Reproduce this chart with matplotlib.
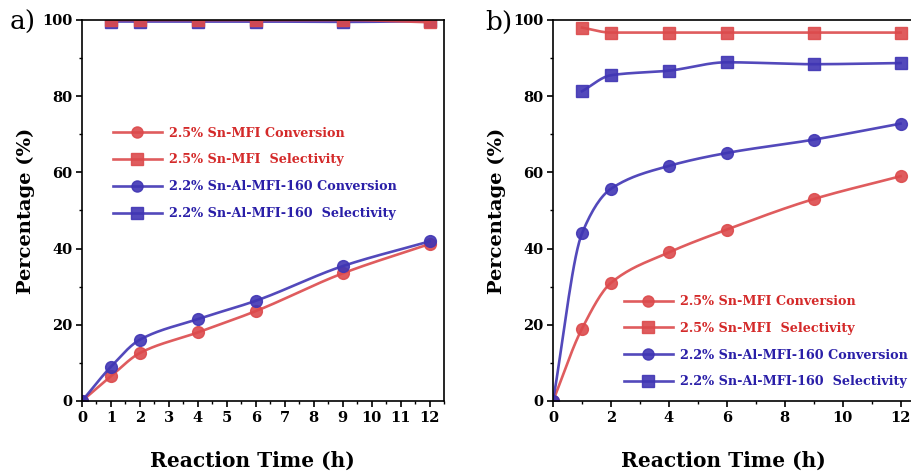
import numpy as np
import matplotlib
matplotlib.use("Agg")
import matplotlib.pyplot as plt
from matplotlib.ticker import MultipleLocator

# reaction times (h)
t_conv = [0, 1, 2, 4, 6, 9, 12]
t_sel = [1, 2, 4, 6, 9, 12]

# panel a)
a_sn_conv = [0, 6.5, 12.6, 18.0, 23.6, 33.5, 41.2]
a_snal_conv = [0, 9.0, 16.1, 21.5, 26.3, 35.4, 41.9]
a_sn_sel = [100, 100, 100, 100, 100, 99.4]
a_snal_sel = [99.6, 99.6, 99.6, 99.6, 99.5, 99.7]

# panel b)
b_sn_conv = [0, 19.0, 31.0, 39.0, 45.0, 53.0, 59.0]
b_snal_conv = [0, 44.0, 55.7, 61.7, 65.1, 68.6, 72.8]
b_sn_sel = [98.0, 96.7, 96.7, 96.7, 96.7, 96.7]
b_snal_sel = [81.3, 85.5, 86.7, 88.9, 88.4, 88.7]

labels = ["2.5% Sn-MFI Conversion", "2.5% Sn-MFI  Selectivity",
          "2.2% Sn-Al-MFI-160 Conversion", "2.2% Sn-Al-MFI-160  Selectivity"]

red = "#dc4a4c"
blue = "#4035b4"
red_txt = "#d42a2a"
blue_txt = "#2a1fa8"

serif = "DejaVu Serif"


def pchip(x, y, n=200):
    # monotone cubic curve through the points, only used to draw the smooth line
    x = np.asarray(x, float)
    y = np.asarray(y, float)
    h = np.diff(x)
    d = np.diff(y) / h
    m = np.zeros_like(y)
    for k in range(1, len(x) - 1):
        if d[k - 1] * d[k] > 0:
            w1 = 2 * h[k] + h[k - 1]
            w2 = h[k] + 2 * h[k - 1]
            m[k] = (w1 + w2) / (w1 / d[k - 1] + w2 / d[k])
    m[0] = d[0]
    m[-1] = d[-1]
    xs = np.linspace(x[0], x[-1], n)
    idx = np.clip(np.searchsorted(x, xs) - 1, 0, len(h) - 1)
    s = (xs - x[idx]) / h[idx]
    h00 = 2 * s**3 - 3 * s**2 + 1
    h10 = s**3 - 2 * s**2 + s
    h01 = -2 * s**3 + 3 * s**2
    h11 = s**3 - s**2
    ys = h00 * y[idx] + h10 * h[idx] * m[idx] + h01 * y[idx + 1] + h11 * h[idx] * m[idx + 1]
    return xs, ys


def series(ax, x, y, color, marker):
    xs, ys = pchip(x, y)
    ax.plot(xs, ys, color=color, lw=1.9, alpha=0.9)
    ax.plot(x, y, ls="none", marker=marker, ms=8.5, color=color, mec=color, alpha=0.9)


def setup(ax, major, minor):
    ax.set_xlim(0, 12.5)
    ax.set_ylim(0, 100)
    ax.xaxis.set_major_locator(MultipleLocator(major))
    ax.xaxis.set_minor_locator(MultipleLocator(minor))
    ax.yaxis.set_major_locator(MultipleLocator(20))
    ax.yaxis.set_minor_locator(MultipleLocator(10))
    ax.tick_params(which="major", direction="out", length=4, width=1.2, pad=3)
    ax.tick_params(which="minor", direction="out", length=2.5, width=1.0)
    for lab in ax.get_xticklabels() + ax.get_yticklabels():
        lab.set_fontfamily(serif)
        lab.set_fontweight("bold")
        lab.set_fontsize(10.5)
    for sp in ax.spines.values():
        sp.set_linewidth(1.2)
    ax.set_xlabel("Reaction Time (h)", fontfamily=serif, fontweight="bold",
                  fontsize=14.5, labelpad=19)
    ax.xaxis.label.set_x(0.47)
    ax.set_ylabel("Percentage (%)", fontfamily=serif, fontweight="bold",
                  fontsize=14, labelpad=5)


def legend(ax, anchor):
    hs = [
        plt.Line2D([], [], color=red, lw=1.9, marker="o", ms=8, alpha=0.9),
        plt.Line2D([], [], color=red, lw=1.9, marker="s", ms=8, alpha=0.9),
        plt.Line2D([], [], color=blue, lw=1.9, marker="o", ms=8, alpha=0.9),
        plt.Line2D([], [], color=blue, lw=1.9, marker="s", ms=8, alpha=0.9),
    ]
    leg = ax.legend(hs, labels, loc="upper left", bbox_to_anchor=anchor, frameon=False,
                    prop={"family": serif, "weight": "bold", "size": 9.2},
                    handlelength=3.8, handletextpad=0.6, labelspacing=1.08,
                    borderpad=0, borderaxespad=0)
    for txt, c in zip(leg.get_texts(), [red_txt, red_txt, blue_txt, blue_txt]):
        txt.set_color(c)


fig = plt.figure(figsize=(9.12, 4.75), dpi=100)
ax1 = fig.add_axes([0.0899, 0.1558, 0.397, 0.8021])
ax2 = fig.add_axes([0.6064, 0.1558, 0.397, 0.8021])

# panel a
series(ax1, t_conv, a_sn_conv, red, "o")
series(ax1, t_conv, a_snal_conv, blue, "o")
series(ax1, t_sel, a_snal_sel, blue, "s")
series(ax1, t_sel, a_sn_sel, red, "s")
setup(ax1, 1, 0.5)
legend(ax1, (0.086, 0.72))

# panel b
series(ax2, t_conv, b_sn_conv, red, "o")
series(ax2, t_conv, b_snal_conv, blue, "o")
series(ax2, t_sel, b_sn_sel, red, "s")
series(ax2, t_sel, b_snal_sel, blue, "s")
setup(ax2, 2, 1)
legend(ax2, (0.196, 0.278))

fig.text(0.011, 0.936, "a)", fontfamily=serif, fontsize=19)
fig.text(0.532, 0.936, "b)", fontfamily=serif, fontsize=19)

fig.savefig("out.png", dpi=100)
